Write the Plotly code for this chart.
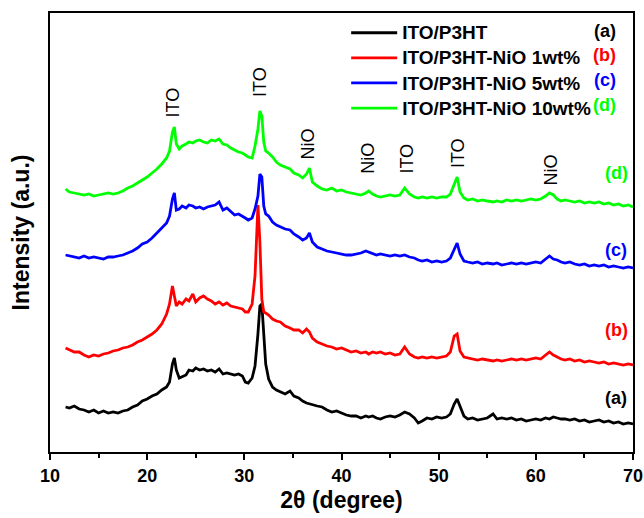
import plotly.graph_objects as go

# 2-theta grid (degree)
THETA = [
    11.6, 12.0, 12.5, 13.0, 13.5, 14.0, 14.5, 15.0, 15.5, 16.0,
    16.5, 17.0, 17.5, 18.0, 18.5, 19.0, 19.5, 20.0, 20.5, 21.0,
    21.5, 22.0, 22.3, 22.6, 22.8, 23.0, 23.3, 23.6, 24.0, 24.3,
    24.7, 25.0, 25.4, 25.8, 26.2, 26.6, 27.0, 27.4, 27.8, 28.2,
    28.6, 29.0, 29.4, 29.8, 30.1, 30.4, 30.8, 31.1, 31.4, 31.6,
    31.8, 32.0, 32.2, 32.5, 32.9, 33.3, 33.7, 34.2, 34.7, 35.1,
    35.6, 36.0, 36.4, 36.7, 37.0, 37.5, 38.0, 38.5, 39.0, 39.5,
    40.0, 40.5, 41.0, 41.5, 42.0, 42.5, 42.8, 43.2, 43.6, 44.0,
    44.5, 45.0, 45.5, 46.0, 46.5, 47.0, 47.5, 47.9, 48.3, 48.8,
    49.3, 49.8, 50.3, 50.8, 51.2, 51.6, 51.9, 52.2, 52.6, 53.0,
    53.5, 54.0, 54.5, 55.0, 55.6, 56.0, 56.5, 57.0, 57.5, 58.0,
    58.5, 59.0, 59.5, 60.0, 60.5, 61.0, 61.4, 61.8, 62.2, 62.6,
    63.0, 63.5, 64.0, 64.5, 65.0, 65.5, 66.0, 66.5, 67.0, 67.5,
    68.0, 68.5, 69.0, 69.5, 70.0,
]

# (a) ITO/P3HT
I_A = [
    47, 46, 48, 45, 44, 42, 44, 41, 43, 41,
    42, 41, 43, 44, 47, 49, 53, 55, 58, 60,
    64, 67, 72, 90, 96, 84, 76, 77, 79, 84,
    83, 86, 84, 85, 83, 84, 82, 85, 80, 81,
    80, 79, 80, 78, 72, 71, 76, 88, 120, 148,
    150, 118, 90, 75, 67, 64, 62, 60, 63, 58,
    56, 53, 51, 50, 49, 48, 47, 44, 42, 43,
    41, 39, 38, 38, 36, 38, 37, 38, 36, 35,
    37, 38, 37, 39, 42, 40, 36, 31, 33, 36,
    35, 37, 36, 37, 40, 50, 55, 47, 38, 35,
    36, 34, 35, 36, 40, 35, 36, 35, 36, 34,
    35, 33, 34, 35, 34, 36, 35, 37, 36, 35,
    35, 34, 35, 33, 34, 32, 33, 34, 32, 33,
    31, 32, 30, 31, 30,
]

# (b) ITO/P3HT-NiO 1wt%
I_B = [
    106, 104, 102, 102, 99, 97, 99, 98, 100, 101,
    103, 104, 106, 107, 109, 112, 114, 117, 120, 124,
    130, 140, 150, 168, 158, 148, 152, 150, 155, 153,
    160, 152, 156, 158, 155, 153, 150, 152, 149, 151,
    148, 147, 146, 145, 142, 142, 150, 178, 249, 212,
    155, 142, 141, 139, 135, 133, 132, 128, 126, 124,
    124, 121, 125, 122, 116, 112, 110, 108, 107, 105,
    106, 104, 102, 103, 101, 102, 100, 102, 101, 102,
    100, 101, 99, 100, 107, 100, 97, 96, 97, 96,
    97, 96, 97, 98, 102, 118, 120, 103, 97, 96,
    95, 94, 95, 94, 93, 94, 93, 94, 95, 94,
    95, 94, 95, 96, 95, 99, 102, 99, 97, 95,
    94, 95, 93, 94, 92, 93, 92, 91, 92, 90,
    91, 90, 89, 90, 89,
]

# (c) ITO/P3HT-NiO 5wt%
I_C = [
    199, 198, 197, 196, 198, 196, 197, 196, 195, 197,
    197, 198, 199, 201, 203, 206, 210, 212, 216, 221,
    226, 231, 238, 255, 261, 244, 245, 248, 246, 249,
    248, 246, 247, 245, 247, 248, 249, 252, 244, 246,
    242, 239, 240, 238, 236, 234, 236, 245, 258, 280,
    277, 248, 240, 238, 232, 229, 227, 225, 224, 220,
    217, 214, 216, 221, 212, 207, 205, 203, 202, 201,
    200, 199, 199, 200, 201, 203, 202, 200, 199, 200,
    199, 198, 199, 198, 199, 197, 196, 194, 193, 194,
    192, 193, 192, 193, 196, 205, 211, 200, 193, 192,
    191, 192, 190, 191, 190, 191, 189, 190, 191, 190,
    191, 190, 191, 192, 191, 195, 198, 195, 194, 192,
    191, 192, 190, 189, 190, 188, 189, 188, 189, 187,
    188, 187, 186, 187, 186,
]

# (d) ITO/P3HT-NiO 10wt%
I_D = [
    265, 262, 261, 260, 259, 260, 258, 259, 260, 261,
    260, 261, 263, 266, 268, 271, 274, 277, 281, 285,
    290, 296, 303, 322, 327, 310, 305, 308, 310, 312,
    311, 313, 314, 312, 311, 314, 313, 315, 310, 309,
    306, 304, 302, 301, 299, 297, 296, 308, 325, 343,
    338, 312, 303, 301, 297, 292, 289, 287, 285, 281,
    279, 276, 280, 286, 272, 268, 265, 264, 266, 263,
    264, 262, 261, 260, 259, 261, 263, 260, 258, 257,
    258, 259, 258, 259, 266, 260, 257, 256, 257, 256,
    257, 256, 257, 257, 260, 270, 277, 262, 256, 254,
    255, 253, 254, 253, 252, 253, 252, 254, 253, 254,
    253, 254, 255, 254, 255, 258, 261, 259, 255, 253,
    254, 253, 252, 253, 251, 252, 251, 252, 250, 251,
    249, 250, 248, 249, 247,
]

SERIES_NAMES = ["ITO/P3HT", "ITO/P3HT-NiO 1wt%", "ITO/P3HT-NiO 5wt%", "ITO/P3HT-NiO 10wt%"]
SERIES_TAGS = ["(a)", "(b)", "(c)", "(d)"]
SERIES_COLORS = ["#000000", "#ff0000", "#0000ff", "#00ff00"]
SERIES_VALUES = [I_A, I_B, I_C, I_D]

# curve tag positions (x in degree, y in intensity units)
TAG_X = [68.25, 68.25, 68.25, 68.25]
TAG_Y = [56, 124, 204, 281]

# peak labels
PEAK_LABELS = ["ITO", "ITO", "NiO", "NiO", "ITO", "ITO", "NiO"]
PEAK_X = [22.7, 31.6, 36.6, 42.7, 46.7, 52.0, 61.6]
PEAK_Y = [352, 372, 310, 296, 295, 301, 284]

X_TICKS = [10, 20, 30, 40, 50, 60, 70]

FONT = "Liberation Sans, Arial, sans-serif"

fig = go.Figure()
for name, vals, col in zip(SERIES_NAMES, SERIES_VALUES, SERIES_COLORS):
    fig.add_trace(go.Scatter(x=THETA, y=vals, mode="lines",
                             name="<span style='font-size:19px'>" + name + "</span>",
                             line=dict(color=col, width=2.8)))

annotations = []
for lab, px, py in zip(PEAK_LABELS, PEAK_X, PEAK_Y):
    annotations.append(dict(x=px, y=py, xref="x", yref="y", text=lab, showarrow=False,
                            textangle=-90, font=dict(family=FONT, size=18, color="black")))
for tag, tx, ty, col in zip(SERIES_TAGS, TAG_X, TAG_Y, SERIES_COLORS):
    annotations.append(dict(x=tx, y=ty, xref="x", yref="y", text=tag, showarrow=False,
                            font=dict(family=FONT, size=18, color=col, weight="bold")))
# tags next to legend entries
LEG_TAG_Y = [0.959, 0.904, 0.847, 0.790]
for tag, ly, col in zip(SERIES_TAGS, LEG_TAG_Y, SERIES_COLORS):
    annotations.append(dict(x=0.974, y=ly, xref="paper", yref="paper", text=tag, showarrow=False,
                            xanchor="right", yanchor="middle",
                            font=dict(family=FONT, size=18, color=col, weight="bold")))

fig.update_layout(
    width=644, height=518,
    margin=dict(l=50, r=11, t=13, b=66),
    plot_bgcolor="white", paper_bgcolor="white",
    showlegend=True,
    legend=dict(x=0.508, y=0.995, xanchor="left", yanchor="top",
                bgcolor="rgba(0,0,0,0)", borderwidth=0, itemwidth=46,
                tracegroupgap=0,
                font=dict(family=FONT, size=17, color="black", weight="bold")),
    annotations=annotations,
    xaxis=dict(range=[10, 70], tickvals=X_TICKS, ticks="outside", ticklen=6, tickwidth=1.5,
               tickcolor="black", showline=True, linecolor="black", linewidth=1.8, mirror=True,
               showgrid=False, zeroline=False, automargin=False,
               minor=dict(dtick=5, ticks="outside", ticklen=4, tickwidth=1.5, tickcolor="black"),
               tickfont=dict(family=FONT, size=18, color="black", weight="bold"),
               title=dict(text="2θ (degree)", standoff=7,
                          font=dict(family=FONT, size=23, color="black", weight="bold"))),
    yaxis=dict(range=[2, 441], showticklabels=False, ticks="", showline=True, linecolor="black",
               linewidth=1.8, mirror=True, showgrid=False, zeroline=False, automargin=False,
               title=dict(text="Intensity (a.u.)", standoff=12,
                          font=dict(family=FONT, size=23, color="black", weight="bold"))),
)

fig.write_html("out.html")
